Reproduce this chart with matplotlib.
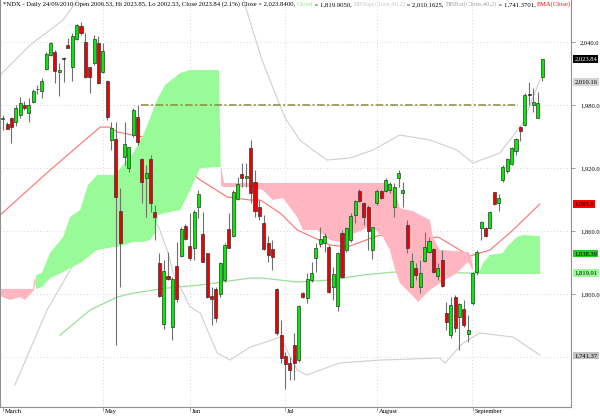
import matplotlib
matplotlib.use('Agg')
import matplotlib.pyplot as plt
import matplotlib.transforms as mtransforms
import numpy as np

# ---------------- data (NDX daily, 30 Mar 2010 .. 24 Sep 2010) ----------------
opens = [1966.4, 1961.9, 1967.6, 1964.1, 1970.5, 1979.7, 1972.1, 1983.1, 1994.8, 1993.6,
         2014.3, 2027.6, 2030.2, 2011.1, 2024.5, 2037.1, 2016.5, 2042.9, 2055.2, 2040.3,
         2015.9, 2019.7, 2039.3, 2011.1, 2003.1, 1946.7, 1947.3, 1879.0, 1930.8, 1919.7,
         1951.4, 1968.9, 1928.3, 1910.2, 1928.3, 1878.4, 1829.2, 1771.4, 1817.4, 1768.3,
         1826.7, 1836.5, 1865.0, 1845.7, 1843.5, 1882.6, 1856.9, 1838.8, 1798.1, 1804.5,
         1799.7, 1813.3, 1861.6, 1855.2, 1890.5, 1914.3, 1910.8, 1939.3, 1906.4, 1883.1,
         1867.9, 1848.3, 1842.9, 1804.5, 1761.0, 1741.0, 1734.6, 1751.4, 1737.1, 1800.7,
         1796.5, 1813.3, 1834.0, 1847.3, 1848.9, 1844.5, 1807.0, 1788.6, 1858.4, 1841.9,
         1851.4, 1875.2, 1898.4, 1887.0, 1883.1, 1841.9, 1886.4, 1898.4, 1898.4, 1899.0,
         1882.6, 1910.2, 1895.9, 1865.7, 1807.0, 1824.5, 1806.4, 1831.7, 1840.3, 1842.6,
         1817.4, 1832.4, 1782.2, 1761.0, 1797.4, 1778.4, 1785.4, 1761.9, 1791.1, 1821.2,
         1862.6, 1862.6, 1862.6, 1896.9, 1887.0, 1908.6, 1917.1, 1923.8, 1936.5, 1958.8,
         1961.0, 1989.5, 1980.0, 1967.9, 2006.53]
highs = [1970.5, 1963.8, 1968.6, 1980.0, 1987.3, 1983.8, 1986.7, 1995.2, 1999.0, 2005.7,
         2030.2, 2040.3, 2032.4, 2019.7, 2025.4, 2043.5, 2048.3, 2056.9, 2059.3, 2048.3,
         2016.5, 2046.7, 2045.7, 2038.8, 2003.8, 1963.8, 1963.8, 1900.7, 1963.8, 1940.0,
         1976.9, 1980.0, 1929.2, 1922.9, 1932.4, 1884.8, 1838.8, 1832.4, 1840.3, 1816.5,
         1849.5, 1863.5, 1866.7, 1876.9, 1880.0, 1899.0, 1878.1, 1839.0, 1807.0, 1807.0,
         1830.8, 1848.6, 1876.9, 1899.0, 1911.7, 1924.5, 1924.5, 1946.7, 1918.1, 1889.5,
         1875.2, 1855.2, 1851.4, 1805.4, 1775.2, 1745.0, 1740.3, 1762.6, 1789.5, 1802.2,
         1819.7, 1830.8, 1848.9, 1863.5, 1857.8, 1846.7, 1826.0, 1840.3, 1861.0, 1864.1,
         1876.9, 1889.5, 1899.7, 1887.9, 1884.8, 1864.1, 1899.7, 1899.0, 1910.2, 1907.0,
         1905.4, 1918.1, 1907.0, 1870.5, 1838.8, 1829.2, 1832.4, 1859.3, 1854.0, 1843.5,
         1829.2, 1841.9, 1792.7, 1797.4, 1799.0, 1791.1, 1794.3, 1780.0, 1821.2, 1841.9,
         1869.8, 1863.8, 1879.3, 1897.4, 1895.2, 1922.9, 1929.2, 1940.3, 1948.3, 1960.0,
         1991.7, 2001.6, 1995.9, 1992.7, 2023.85]
lows = [1956.2, 1956.7, 1944.1, 1960.0, 1967.9, 1975.2, 1963.8, 1981.9, 1990.5, 1986.7,
        2013.3, 2026.7, 2001.2, 1988.6, 2002.2, 2034.0, 2002.9, 2041.9, 2046.7, 2005.4,
        1991.7, 2018.1, 2000.0, 2010.2, 1965.7, 1937.1, 1751.4, 1807.0, 1922.9, 1916.5,
        1949.8, 1941.9, 1886.4, 1873.6, 1878.4, 1851.4, 1797.4, 1766.7, 1813.3, 1756.2,
        1792.4, 1835.5, 1851.4, 1832.4, 1832.4, 1872.1, 1830.5, 1795.9, 1770.5, 1773.6,
        1797.1, 1811.7, 1843.5, 1854.6, 1889.5, 1902.2, 1902.2, 1886.4, 1873.6, 1870.5,
        1841.9, 1830.8, 1822.9, 1761.0, 1734.0, 1709.2, 1718.1, 1718.1, 1735.5, 1795.9,
        1791.7, 1811.7, 1821.2, 1845.0, 1840.3, 1801.2, 1794.3, 1783.8, 1815.0, 1840.3,
        1849.8, 1867.3, 1887.9, 1865.7, 1841.9, 1833.0, 1884.8, 1890.2, 1897.4, 1896.5,
        1873.6, 1902.2, 1882.6, 1838.8, 1806.4, 1813.3, 1800.7, 1830.8, 1839.3, 1819.7,
        1813.3, 1807.0, 1765.7, 1757.8, 1764.1, 1746.7, 1768.9, 1754.6, 1789.5, 1818.1,
        1851.4, 1854.3, 1861.6, 1884.8, 1879.3, 1907.0, 1915.0, 1922.9, 1932.4, 1945.7,
        1960.0, 1980.0, 1973.6, 1967.3, 2002.53]
closes = [1967.6, 1957.4, 1958.8, 1977.4, 1981.6, 1977.1, 1980.3, 1993.6, 1995.2, 2003.1,
          2028.3, 2038.8, 2012.4, 2013.3, 2023.5, 2034.6, 2046.0, 2056.2, 2048.9, 2006.4,
          2007.0, 2042.9, 2000.7, 2031.4, 1968.3, 1958.1, 1892.7, 1848.3, 1942.6, 1939.7,
          1975.2, 1945.0, 1907.0, 1915.0, 1886.4, 1873.0, 1798.4, 1821.9, 1814.0, 1814.6,
          1795.2, 1861.6, 1852.1, 1834.0, 1878.4, 1895.0, 1830.8, 1796.9, 1795.0, 1777.4,
          1829.2, 1846.7, 1844.1, 1896.9, 1904.5, 1910.5, 1912.7, 1895.9, 1879.3, 1874.3,
          1843.1, 1837.1, 1835.0, 1762.6, 1738.8, 1733.0, 1727.6, 1734.0, 1788.6, 1797.4,
          1814.0, 1820.3, 1843.5, 1852.4, 1855.2, 1802.2, 1818.8, 1839.3, 1815.9, 1862.6,
          1874.6, 1888.9, 1888.6, 1873.6, 1860.0, 1863.5, 1898.4, 1891.1, 1908.6, 1904.5,
          1902.2, 1915.0, 1899.0, 1843.5, 1831.4, 1818.1, 1820.3, 1844.5, 1850.8, 1821.2,
          1824.5, 1807.6, 1773.6, 1789.5, 1767.3, 1790.5, 1770.5, 1765.7, 1819.7, 1840.3,
          1868.9, 1855.2, 1878.4, 1885.7, 1891.1, 1921.0, 1928.3, 1938.8, 1947.6, 1955.5,
          1989.2, 1989.5, 1982.6, 1981.6, 2023.84]

# Ichimoku-style cloud spans (x = trading-day index)
cloud_x = [-0.6, 1.7, 4.0, 5.1, 7.0, 7.2, 7.7, 9.0, 10.9, 13.9, 15.5, 17.8, 19.6, 21.7, 25.4,
           26.3, 30.0, 32.3, 33.9, 35.0, 35.7, 37.3, 40.8, 43.1, 45.4, 49.7, 50.2, 50.9, 56.9,
           59.8, 62.1, 64.4, 67.7, 69.0, 72.3, 75.2, 77.5, 79.8, 82.8, 84.4, 87.4, 89.0, 90.2,
           91.3, 92.9, 94.3, 95.5, 98.2, 98.9, 100.5, 104.4, 107.0, 107.7, 108.3, 109.7, 110.4,
           112.0, 115.0, 115.9, 118.2, 119.6, 123.5]
span_a = [1798.1, 1794.3, 1797.1, 1794.3, 1802.9, 1802.9, 1818.1, 1820.0, 1839.1, 1854.3,
          1873.3, 1880.0, 1903.8, 1913.3, 1913.3, 1916.2, 1934.3, 1951.4, 1967.6, 1980.0,
          1986.7, 1999.0, 2010.5, 2013.3, 2013.3, 2013.3, 1902.9, 1901.9, 1901.9, 1899.0,
          1889.5, 1891.4, 1873.3, 1860.9, 1860.9, 1851.4, 1849.5, 1856.2, 1860.9, 1865.7,
          1854.3, 1841.9, 1822.9, 1810.5, 1803.8, 1798.1, 1792.4, 1803.8, 1805.7, 1810.5,
          1820.0, 1830.5, 1824.8, 1821.9, 1821.9, 1829.5, 1837.1, 1839.1, 1844.8, 1854.3,
          1856.2, 1855.2]
span_b = [1804.8, 1804.8, 1804.8, 1804.8, 1804.8, 1817.1, 1804.8, 1806.7, 1815.2, 1820.9,
          1824.8, 1829.5, 1835.2, 1841.9, 1844.8, 1844.8, 1849.5, 1849.5, 1851.4, 1858.1,
          1875.2, 1877.1, 1880.0, 1899.0, 1920.0, 1920.9, 1920.9, 1905.7, 1905.7, 1905.7,
          1905.7, 1905.7, 1905.7, 1905.7, 1905.7, 1905.7, 1905.7, 1905.7, 1905.7, 1905.7,
          1905.7, 1905.7, 1899.0, 1881.9, 1880.0, 1879.1, 1876.2, 1870.5, 1854.3, 1841.9,
          1840.9, 1840.0, 1836.2, 1819.1, 1819.1, 1819.1, 1819.1, 1819.1, 1819.1, 1819.1,
          1819.1, 1819.1]

ema_x = [-0.6, 10.9, 22.4, 24.7, 26.3, 32.3, 38.5, 45.4, 51.6, 56.9, 59.2, 63.8, 67.7, 75.2,
         79.2, 86.7, 94.3, 100.1, 105.1, 107.4, 112.0, 117.3, 123.5]
ema_v = [1875.2, 1918.1, 1959.0, 1959.0, 1954.3, 1949.5, 1932.4, 1908.6, 1892.4, 1889.5,
         1889.5, 1877.1, 1861.0, 1846.7, 1844.8, 1856.2, 1851.4, 1854.3, 1841.9, 1836.2,
         1841.9, 1861.0, 1885.8]

bbtop_x = [-0.6, 6.3, 13.9, 18.9, 45.4, 54.6, 59.6, 64.9, 68.3, 71.3, 74.6, 79.8, 85.1, 91.3,
           98.2, 104.4, 108.1, 114.3, 119.6, 123.5]
bbtop_v = [2008.6, 2037.1, 2061.0, 2090.0, 2090.0, 2090.0, 2022.9, 1967.6, 1946.7, 1937.1,
           1927.6, 1929.5, 1937.1, 1951.4, 1946.7, 1937.1, 1924.8, 1934.3, 1962.9, 2003.8]

bbbot_x = [2.8, 10.2, 15.9, 22.4, 28.1, 33.9, 35.7, 37.8, 39.2, 43.1, 45.4, 49.3, 52.3, 56.9,
           59.8, 63.8, 67.7, 69.9, 77.5, 86.7, 100.5, 101.7, 105.8, 109.7, 117.3, 123.5]
bbbot_v = [1713.3, 1784.8, 1825.7, 1848.6, 1862.9, 1870.5, 1865.7, 1841.9, 1820.0, 1787.6,
           1781.9, 1743.8, 1737.1, 1749.5, 1753.3, 1759.0, 1727.6, 1722.9, 1734.3, 1737.1,
           1739.0, 1734.3, 1753.3, 1762.9, 1759.0, 1741.9]

ma_x = [13.2, 20.1, 26.3, 30.0, 37.8, 45.4, 56.9, 59.8, 67.7, 75.2, 82.8, 89.7, 107.4, 123.5]
ma_v = [1760.9, 1784.8, 1797.1, 1800.9, 1805.7, 1808.6, 1815.2, 1815.2, 1811.4, 1813.3,
        1818.1, 1820.9, 1820.0, 1819.9]

level_price = 1980.0
level_span = [31.7, 118.5]

y_ticks = [1800, 1860, 1920, 1980, 2040]
y_tick_labels = ["1,800.0", "1,860.0", "1,920.0", "1,980.0", "2,040.0"]
grid_prices = [1740, 1800, 1860, 1920, 1980, 2040]
month_idx = [0, 23, 43, 65, 86, 108]
month_labels = ["March", "May", "Jun", "Jul", "August", "September"]

value_labels = [  # text, price, face, text colour, vertical shift (px)
    ("2,023.84", 2023.84, "#000000", "#ffffff", 0),
    ("2,010.16", 2010.16, "#d4d4d4", "#000000", -8.5),
    ("1,885.8", 1885.8, "#ff0000", "#000000", 0),
    ("1,838.39", 1838.39, "#22cc22", "#000000", 0),
    ("1,819.91", 1819.91, "#98fb98", "#000000", 0),
    ("1,741.37", 1741.37, "#c4c4c4", "#000000", 0),
]

title_pieces = [
    ("*NDX - Daily 24/09/2010 Open 2006.53, Hi 2023.85, Lo 2002.53, Close 2023.84 (2.1%) "
     "Close = 2,023.8400, ", "#000000"),
    ("Cloud", "#90ee90"),
    (" = 1,819.9050, ", "#000000"),
    ("BBTop(Close,40,2)", "#c8c8c8"),
    (" = 2,010.1625, ", "#000000"),
    ("BBBot(Close,40,2)", "#a0a0a0"),
    (" = 1,741.3701, ", "#000000"),
    ("EMA(Close)", "#ff0000"),
]

# ---------------- figure ----------------
W, H = 600, 416
SERIF = "Liberation Serif"
FS = 4.7
FS_TITLE = 4.8
fig = plt.figure(figsize=(W / 100, H / 100), dpi=100)
ax = fig.add_axes([0, 9 / H, 571 / W, 407 / H])
ax.set_xlim(-0.62, 130.64)
ax.set_ylim(1692.4, 2080)

# grid
for p in grid_prices:
    ax.axhline(p, color="#c8c8c8", lw=0.6, ls=(0, (1, 3)), zorder=0.5)
for m in month_idx[1:]:
    ax.axvline(m - 0.05, color="#c8c8c8", lw=0.6, ls=(0, (1, 3)), zorder=0.5)

# indicator lines (under the cloud)
ax.plot(bbtop_x, bbtop_v, color="#cfcfcf", lw=0.8, zorder=1)
ax.plot(bbbot_x, bbbot_v, color="#cfcfcf", lw=0.8, zorder=1)
ax.plot(ema_x, ema_v, color="#ff7070", lw=0.8, zorder=1)
ax.plot(ma_x, ma_v, color="#98e098", lw=0.9, zorder=1)

# cloud
cx = np.array(cloud_x)
a = np.array(span_a)
b = np.array(span_b)
ax.fill_between(cx, a, b, where=a >= b, interpolate=True, color="#98fb98", lw=0, zorder=2)
ax.fill_between(cx, a, b, where=a < b, interpolate=True, color="#ffb6c1", lw=0, zorder=2)

# horizontal dash-dot level
ax.plot(level_span, [level_price, level_price], color="#8a8a3c", lw=1.1,
        dashes=(5, 1.6, 1.4, 1.6), zorder=3)

# candles
idx = np.arange(len(opens))
o = np.array(opens); h = np.array(highs); l = np.array(lows); c = np.array(closes)
ax.vlines(idx, l, h, color="#707070", lw=0.8, zorder=4)
up = c >= o
body_lo = np.minimum(o, c)
body_h = np.maximum(np.abs(c - o), 0.6)
cols = np.where(up, "#00ee00", "#ee0000")
doji = np.abs(c - o) < 0.3
cols = np.where(doji, "#000000", cols)
ax.bar(idx, body_h, bottom=body_lo, width=0.7, color=cols, edgecolor="#333333",
       linewidth=0.5, zorder=5)

# axes styling
ax.spines["top"].set_visible(False)
for s in ["left", "bottom", "right"]:
    ax.spines[s].set_color("#909090")
    ax.spines[s].set_linewidth(0.8)
ax.yaxis.tick_right()
ax.set_yticks(y_ticks)
ax.set_yticklabels(y_tick_labels, fontfamily=SERIF, fontsize=FS)
ax.tick_params(axis="y", length=3, width=0.6, color="#909090", pad=3.5)
ax.set_xticks(month_idx)
ax.set_xticklabels([])
ax.tick_params(axis="x", length=3, width=0.6, color="#909090")

trans_x = mtransforms.blended_transform_factory(ax.transData, ax.transAxes)
for m, lab in zip(month_idx, month_labels):
    ax.annotate(lab, xy=(m, 0), xycoords=trans_x, xytext=(1.2, -1.2),
                textcoords="offset points", ha="left", va="top",
                fontsize=FS, fontfamily=SERIF, annotation_clip=False)

trans_y = ax.get_yaxis_transform()
for txt, p, fc, tc, dy in value_labels:
    ax.annotate(txt, xy=(1, p), xycoords=trans_y, xytext=(2.4, dy * 0.72),
                textcoords="offset points", ha="left", va="center", fontsize=FS,
                fontfamily=SERIF, color=tc, annotation_clip=False,
                bbox=dict(boxstyle="square,pad=0.18", fc=fc, ec="none"))

# title (coloured pieces chained one after another)
fig.canvas.draw()
r = fig.canvas.get_renderer()
xpos = 3.0
for s, col in title_pieces:
    t = fig.text(xpos / W, 1 - 4.5 / H, s, color=col, fontsize=FS_TITLE, fontfamily=SERIF,
                 ha="left", va="center")
    bb = t.get_window_extent(renderer=r)
    xpos = bb.x1

fig.savefig("out.png", dpi=100)
